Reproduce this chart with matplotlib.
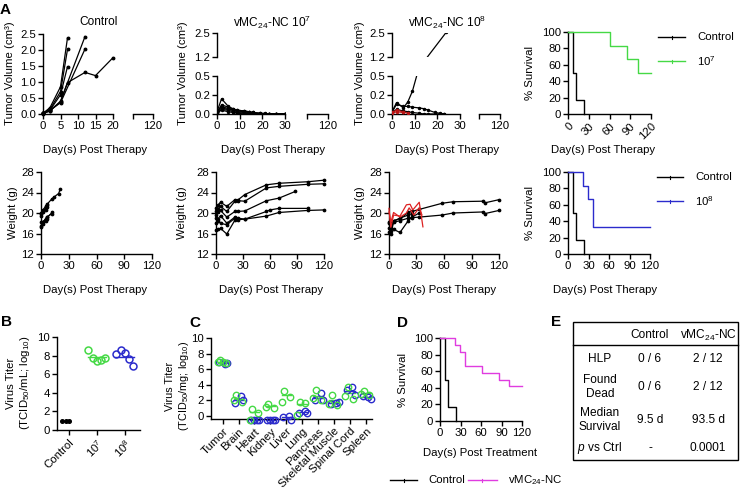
import numpy as np
import matplotlib
matplotlib.use('Agg')
import matplotlib.pyplot as plt
from matplotlib.lines import Line2D
from matplotlib.patches import Rectangle

plt.rcParams['font.family'] = ['Liberation Sans', 'DejaVu Sans']
plt.rcParams['mathtext.fontset'] = 'custom'
plt.rcParams['mathtext.rm'] = 'Liberation Sans'
plt.rcParams['mathtext.it'] = 'Liberation Sans:italic'
plt.rcParams['mathtext.bf'] = 'Liberation Sans:bold'
plt.rcParams['mathtext.default'] = 'regular'

# ---------------- DATA ----------------
# Panel A row 1: tumor volume (cm3)
ctrl_tumor_days = [[0, 2, 5, 7], [0, 2, 5, 7], [0, 2, 5, 7], [0, 2, 5, 12], [0, 2, 5, 12],
                   [0, 2, 5, 7, 12, 15, 20]]
ctrl_tumor_vols = [[0.02, 0.2, 0.85, 2.38], [0.03, 0.15, 0.7, 2.02], [0.02, 0.12, 0.6, 1.48],
                   [0.01, 0.1, 0.4, 2.42], [0.02, 0.12, 0.35, 2.03],
                   [0.02, 0.1, 0.38, 0.98, 1.3, 1.2, 1.76]]

nc7_tumor_days = [0, 2, 5, 7, 9, 12, 14, 16, 19, 21, 23, 26, 30]
nc7_tumor_vols = [[0.03, 0.20, 0.10, 0.07, 0.05, 0.04, 0.03, 0.02, 0.01, 0, 0, 0, 0],
                  [0.02, 0.12, 0.09, 0.06, 0.05, 0.04, 0.03, 0.02, 0.01, 0.01, 0, 0, 0],
                  [0.03, 0.10, 0.07, 0.05, 0.04, 0.03, 0.02, 0.01, 0, 0, 0, 0, 0],
                  [0.02, 0.08, 0.06, 0.05, 0.03, 0.02, 0.01, 0, 0, 0, 0, 0, 0],
                  [0.01, 0.06, 0.05, 0.03, 0.02, 0.01, 0, 0, 0, 0, 0, 0, 0],
                  [0.02, 0.05, 0.03, 0.02, 0.01, 0, 0, 0, 0, 0, 0, 0, 0]]

nc8_tumor_days = [[0, 2, 5, 7, 9, 12, 24],
                  [0, 2, 5, 7, 9, 12, 14, 16, 19, 21, 23],
                  [0, 2, 5, 7, 9, 12, 14, 16, 19, 21, 23]]
nc8_tumor_vols = [[0.03, 0.15, 0.08, 0.16, 0.3, 0.62, 2.55],
                  [0.02, 0.13, 0.10, 0.10, 0.09, 0.08, 0.07, 0.05, 0.02, 0.01, 0],
                  [0.02, 0.06, 0.04, 0.03, 0.02, 0.01, 0, 0, 0, 0, 0]]
nc8_tumor_red_days = [[0, 2, 5, 7], [0, 2, 5]]
nc8_tumor_red_vols = [[0.02, 0.05, 0.03, 0.01], [0.01, 0.03, 0.02]]

# Survival curves (%)
surv_ctrl_days = [0, 7, 12, 23]
surv_ctrl_pct = [100, 50, 16.7, 0]
surv_107_days = [0, 60, 86, 101, 120]
surv_107_pct = [100, 83.3, 66.7, 50, 50]
surv_108_days = [0, 22, 29, 36, 120]
surv_108_pct = [100, 83.3, 66.7, 33.3, 33.3]
surv_nc_days = [0, 22, 29, 36, 61, 86, 101, 120]
surv_nc_pct = [100, 91.7, 83.3, 66.7, 58.3, 50, 41.7, 41.7]

# Panel A row 2: weight (g)
ctrl_w_days = [[0, 2, 5, 7, 12, 14, 19, 21], [0, 2, 5, 7], [0, 2, 5, 7],
               [0, 2, 5, 7, 12], [0, 2, 5, 7, 12], [0, 2, 5, 7]]
ctrl_w_vals = [[20.0, 20.6, 21.3, 21.8, 22.8, 23.1, 23.8, 24.7], [19.8, 20.3, 21.0, 21.5],
               [19.5, 20.1, 20.6, 21.2], [18.3, 18.3, 18.8, 19.2, 20.1],
               [17.5, 18.2, 18.8, 19.3, 19.9], [17.2, 17.8, 18.5, 18.9]]

nc7_w_days = [[0, 2, 5, 12, 21, 24, 32, 56, 70, 102, 120],
              [0, 2, 5, 12, 21, 24, 32, 56, 70, 102, 120],
              [0, 2, 5, 12, 21, 24, 32, 56, 70, 88],
              [0, 2, 5, 12, 21, 24, 32, 56, 60, 70, 102],
              [0, 2, 5, 12, 21, 24, 32, 56, 70, 102, 120],
              [0, 2, 5, 12, 21]]
nc7_w_vals = [[20.9, 21.5, 22.1, 21.3, 22.6, 22.5, 23.6, 25.5, 25.8, 26.1, 26.4],
              [20.3, 20.8, 21.3, 20.3, 22.3, 22.4, 22.3, 24.9, 25.2, 25.6, 25.7],
              [19.6, 20.2, 20.5, 19.2, 20.3, 20.3, 20.4, 22.4, 22.9, 24.2],
              [19.0, 18.8, 19.5, 18.0, 19.2, 19.0, 18.8, 20.3, 20.6, 20.9, 20.9],
              [16.7, 16.8, 17.0, 15.9, 18.6, 18.7, 18.8, 19.4, 20.1, 20.5, 20.6],
              [18.1, 18.5, 18.0, 17.7, 19.0]]

nc8_w_days = [[0, 2, 5, 12, 21, 25, 33, 58, 70, 102, 105, 120],
              [0, 2, 5, 12, 21, 25, 33, 58, 70, 102, 105, 120],
              [0, 2, 5, 12, 21, 25, 33],
              [0, 2, 5, 12, 21, 25]]
nc8_w_vals = [[18.0, 16.5, 18.5, 18.9, 20.1, 20.3, 20.7, 21.9, 22.2, 22.3, 22.0, 22.6],
              [17.0, 16.0, 18.2, 18.5, 19.0, 19.1, 19.2, 19.6, 20.0, 20.2, 19.9, 20.5],
              [16.2, 17.0, 16.8, 16.2, 18.5, 19.2, 20.0],
              [18.3, 18.0, 18.4, 19.0, 19.6, 19.9]]
nc8_w_red_days = [[0, 2, 5, 12, 19, 23, 26, 33, 37], [0, 2, 5, 12, 19, 22, 27, 33, 36]]
nc8_w_red_vals = [[20.9, 17.2, 19.6, 19.4, 21.6, 21.7, 20.6, 22.1, 17.3],
                  [20.2, 18.2, 20.1, 19.2, 20.0, 21.0, 19.6, 21.0, 19.6]]

# Panel B: virus titer (TCID50/mL; log10)
b_groups = ['Control', '10$^7$', '10$^8$']
b_ctrl = [1.0, 1.0, 1.0]
b_107 = [8.55, 7.75, 7.45, 7.5, 7.75]
b_108 = [8.2, 8.55, 8.3, 7.6, 6.9]
b_mean = [None, 7.9, 7.9]

# Panel C: organ titers (TCID50/mg; log10)
c_organs = ['Tumor', 'Brain', 'Heart', 'Kidney', 'Liver', 'Lung', 'Pancreas',
            'Skeletal Muscle', 'Spinal Cord', 'Spleen']
c_107 = [[7.2, 6.85, 6.9, 7.0], [2.7, 1.8, 2.1], [0.9, 0.3, -0.5], [1.5, 0.95, 1.1],
         [3.2, 2.4, 1.8], [1.8, 1.6, 0.1], [3.3, 2.0, 2.3], [2.7, 1.4, 1.5],
         [3.75, 2.2, 2.6], [3.2, 2.7, 2.8]]
c_108 = [[6.7, 7.0, 6.8], [2.5, 1.7, 2.0], [-0.5, -0.5, -0.5, -0.5], [-0.5, -0.5, -0.5, -0.5],
         [0.0, -0.1, -0.5], [0.6, 0.4, 0.3], [2.9, 2.1, 2.0], [1.7, 1.5, 1.8],
         [3.75, 3.3, 2.7], [2.4, 2.5, 2.2]]
c_mean_107 = [6.9, 2.2, 0.43, 1.25, 2.67, 1.47, 2.6, 2.1, 2.9, 2.9]
c_mean_108 = [6.8, 2.1, -0.5, -0.5, -0.2, 0.45, 2.35, 1.7, 3.25, 2.4]

# Panel E: table
e_cols = ['Control', 'vMC$_{24}$-NC']
e_rows = ['HLP', 'Found\nDead', 'Median\nSurvival', '$\\it{p}$ vs Ctrl']
e_ctrl = ['0 / 6', '0 / 6', '9.5 d', '-']
e_nc = ['2 / 12', '2 / 12', '93.5 d', '0.0001']

# ---------------- STYLE ----------------
GREEN = '#45d945'
BLUE = '#2b2bcc'
MAG = '#e03ce0'
RED = '#dd2222'
FS = 8.2

W, H = 740, 495
fig = plt.figure(figsize=(W / 100, H / 100), dpi=100)


def add_ax(l, t, r, b):
    return fig.add_axes([l / W, 1 - b / H, (r - l) / W, (b - t) / H])


def ftext(x, y, s, **kw):
    kw.setdefault('fontsize', FS)
    return fig.text(x / W, 1 - y / H, s, **kw)


def fline(x1, x2, y, color, lw=1.0):
    fig.add_artist(Line2D([x1 / W, x2 / W], [1 - y / H, 1 - y / H], color=color, lw=lw))
    xm = (x1 + x2) / 2
    fig.add_artist(Line2D([xm / W, xm / W], [1 - (y - 1.5) / H, 1 - (y + 1.5) / H],
                          color=color, lw=0.8))


def style(ax, left=True, bottom=True):
    for s in ['top', 'right']:
        ax.spines[s].set_visible(False)
    ax.spines['left'].set_visible(left)
    ax.spines['bottom'].set_visible(bottom)
    for s in ['left', 'bottom']:
        ax.spines[s].set_linewidth(1.0)
    ax.tick_params(direction='out', length=3.5, width=1.0, labelsize=FS, pad=1.5)
    if not left:
        ax.tick_params(axis='y', left=False, labelleft=False)
    if not bottom:
        ax.tick_params(axis='x', bottom=False, labelbottom=False)
    ax.patch.set_alpha(0)


def series(ax, d, v, color='black', clip=False, ms=1.7):
    ax.plot(d, v, color=color, lw=0.9, marker='o', ms=ms, mec=color, mfc=color,
            clip_on=clip, zorder=3)


# ---------------- ROW 1: tumor volume ----------------
ftext(5, 10, 'A', fontsize=11, fontweight='bold', ha='center', va='center')

ax = add_ax(43, 34, 113, 114)
style(ax)
for d, v in zip(ctrl_tumor_days, ctrl_tumor_vols):
    series(ax, d, v, ms=1.8)
ax.set_xlim(0, 20)
ax.set_ylim(0, 2.5)
ax.set_xticks([0, 5, 10, 15, 20])
ax.set_yticks([0, 0.5, 1.0, 1.5, 2.0, 2.5])
ax.set_yticklabels(['0.0', '0.5', '1.0', '1.5', '2.0', '2.5'])
seg = add_ax(133, 34, 153, 114)
style(seg, left=False)
seg.set_xlim(110, 120)
seg.set_ylim(0, 2.5)
seg.set_xticks([110, 120])
seg.set_xticklabels(['', '120'])
ftext(99, 22, 'Control', ha='center', va='center', fontsize=8.6)


def broken_tumor(l, r, s2l, s2r, days_list, vals_list, red_d=None, red_v=None):
    low = add_ax(l, 76, r, 114)
    up = add_ax(l, 33, r, 57)
    style(low)
    style(up, bottom=False)
    for a in (low, up):
        a.set_xlim(0, 30)
        for d, v in zip(days_list, vals_list):
            series(a, d, v, clip=True, ms=1.5)
        if red_d is not None:
            for d, v in zip(red_d, red_v):
                series(a, d, v, color='#b81414', clip=True, ms=1.5)
    low.set_ylim(0, 0.5)
    low.set_yticks([0, 0.25, 0.5])
    low.set_yticklabels(['0.0', '0.2', '0.5'])
    low.set_xticks([0, 10, 20, 30])
    up.set_ylim(1.2, 2.5)
    up.set_yticks([1.2, 2.5])
    up.set_yticklabels(['1.2', '2.5'])
    seg = add_ax(s2l, 76, s2r, 114)
    style(seg, left=False)
    seg.set_xlim(110, 120)
    seg.set_ylim(0, 0.5)
    seg.set_xticks([110, 120])
    seg.set_xticklabels(['', '120'])
    return low, up


broken_tumor(217, 285, 307, 328, [nc7_tumor_days] * len(nc7_tumor_vols), nc7_tumor_vols)
ftext(272, 22, 'vMC$_{24}$-NC 10$^7$', ha='center', va='center', fontsize=8.6)
broken_tumor(392, 460, 479, 500, nc8_tumor_days, nc8_tumor_vols,
             nc8_tumor_red_days, nc8_tumor_red_vols)
ftext(447, 22, 'vMC$_{24}$-NC 10$^8$', ha='center', va='center', fontsize=8.6)

for x in (10, 183, 360):
    ftext(x, 73, 'Tumor Volume (cm³)', rotation=90, ha='center', va='center')


def survival(ax, curves, rotate=False):
    style(ax)
    for d, p, c in curves:
        ax.plot(d, p, drawstyle='steps-post', color=c, lw=1.0, clip_on=False, zorder=3)
    ax.set_xlim(0, 120)
    ax.set_ylim(0, 100)
    ax.set_xticks([0, 30, 60, 90, 120])
    ax.set_yticks([0, 20, 40, 60, 80, 100])
    if rotate:
        for lab in ax.get_xticklabels():
            lab.set_rotation(45)
            lab.set_ha('right')
            lab.set_rotation_mode('anchor')


ax = add_ax(568, 32, 651, 114)
survival(ax, [(surv_ctrl_days, surv_ctrl_pct, 'black'), (surv_107_days, surv_107_pct, GREEN)],
         rotate=True)
ftext(530, 73, '% Survival', rotation=90, ha='center', va='center')
fline(658, 685, 37, 'black')
ftext(697, 37, 'Control', va='center', ha='left')
fline(658, 685, 61, GREEN)
ftext(697, 61, '10$^7$', va='center', ha='left')

for x in (95, 273, 447, 603):
    ftext(x, 150, 'Day(s) Post Therapy', ha='center', va='center')

# ---------------- ROW 2: weight ----------------


def weight(l, r, days_list, vals_list, red_d=None, red_v=None):
    ax = add_ax(l, 172, r, 254)
    style(ax)
    for d, v in zip(days_list, vals_list):
        series(ax, d, v, ms=1.7)
    if red_d is not None:
        for d, v in zip(red_d, red_v):
            ax.plot(d, v, color=RED, lw=0.9, clip_on=False, zorder=4)
    ax.set_xlim(0, 120)
    ax.set_ylim(12, 28)
    ax.set_xticks([0, 30, 60, 90, 120])
    ax.set_yticks([12, 16, 20, 24, 28])
    return ax


weight(41, 152, ctrl_w_days, ctrl_w_vals)
weight(216, 324, nc7_w_days, nc7_w_vals)
weight(389, 499, nc8_w_days, nc8_w_vals, nc8_w_red_days, nc8_w_red_vals)
for x in (13, 182, 360):
    ftext(x, 213, 'Weight (g)', rotation=90, ha='center', va='center')

ax = add_ax(568, 172, 650, 254)
survival(ax, [(surv_ctrl_days, surv_ctrl_pct, 'black'), (surv_108_days, surv_108_pct, BLUE)])
ftext(530, 213, '% Survival', rotation=90, ha='center', va='center')
fline(657, 683, 177, 'black')
ftext(695, 177, 'Control', va='center', ha='left')
fline(657, 683, 201, BLUE)
ftext(695, 201, '10$^8$', va='center', ha='left')

for x in (95, 271, 444, 605):
    ftext(x, 290, 'Day(s) Post Therapy', ha='center', va='center')

# ---------------- B ----------------
ftext(7, 322, 'B', fontsize=11, fontweight='bold', ha='center', va='center')
ax = add_ax(57, 337, 140, 430)
style(ax)
jit = [-0.3, -0.15, 0.0, 0.15, 0.3, 0.08]
ax.plot([0 + jit[i] * 0.8 for i in range(len(b_ctrl))], b_ctrl, 'o', color='black', ms=2.6,
        clip_on=False)
for gi, (vals, col) in enumerate([(b_107, GREEN), (b_108, BLUE)], start=1):
    ax.plot([gi + jit[i] for i in range(len(vals))], vals, 'o', mfc='none', mec=col, mew=1.1,
            ms=5, clip_on=False)
    ax.plot([gi - 0.33, gi + 0.33], [b_mean[gi]] * 2, color=col, lw=1.0)
ax.set_xlim(-0.43, 2.55)
ax.set_ylim(0, 10)
ax.set_yticks([0, 2, 4, 6, 8, 10])
ax.set_xticks([0, 1, 2])
ax.set_xticklabels(b_groups, rotation=45, ha='right', rotation_mode='anchor')
ftext(19, 383, 'Virus Titer\n(TCID$_{50}$/mL; log$_{10}$)', rotation=90, ha='center',
      va='center', multialignment='center')

# ---------------- C ----------------
ftext(195, 323, 'C', fontsize=11, fontweight='bold', ha='center', va='center')
ax = add_ax(211, 338.3, 372, 419.3)
style(ax)
jg = [-0.15, 0.2, -0.3, 0.05]
jb = [0.15, -0.2, 0.3, -0.05]
for i in range(len(c_organs)):
    g = c_107[i]
    b = c_108[i]
    ax.plot([i + jb[k] for k in range(len(b))], b, 'o', mfc='none', mec=BLUE, mew=1.0, ms=4.6,
            clip_on=False, zorder=3)
    ax.plot([i + jg[k] for k in range(len(g))], g, 'o', mfc='none', mec=GREEN, mew=1.0, ms=4.6,
            clip_on=False, zorder=4)
    ax.plot([i - 0.3, i + 0.3], [c_mean_108[i]] * 2, color=BLUE, lw=1.0, clip_on=False)
    ax.plot([i - 0.3, i + 0.3], [c_mean_107[i]] * 2, color=GREEN, lw=1.0, clip_on=False)
ax.set_xlim(-0.73, 9.38)
ax.set_ylim(-0.45, 10)
ax.set_yticks([0, 2, 4, 6, 8, 10])
ax.set_xticks(range(len(c_organs)))
ax.set_xticklabels(c_organs, rotation=45, ha='right', rotation_mode='anchor')
ftext(178, 386, 'Virus Titer\n(TCID$_{50}$/mg; log$_{10}$)', rotation=90, ha='center',
      va='center', multialignment='center', fontsize=7.8)

# ---------------- D ----------------
ftext(403, 323, 'D', fontsize=11, fontweight='bold', ha='center', va='center')
ax = add_ax(440, 338, 522, 421)
survival(ax, [(surv_ctrl_days, surv_ctrl_pct, 'black'), (surv_nc_days, surv_nc_pct, MAG)])
ftext(403, 380, '% Survival', rotation=90, ha='center', va='center')
ftext(480, 453, 'Day(s) Post Treatment', ha='center', va='center')
fline(390, 417, 480, 'black')
ftext(428, 480, 'Control', ha='left', va='center')
fline(468, 497, 480, MAG)
ftext(508, 480, 'vMC$_{24}$-NC', ha='left', va='center')

# ---------------- E ----------------
ftext(556, 322, 'E', fontsize=11, fontweight='bold', ha='center', va='center')
fig.add_artist(Rectangle((573 / W, 1 - 460 / H), (738 - 573) / W, (460 - 322) / H,
                         transform=fig.transFigure, fill=False, lw=1.0, ec='black'))
fline_plain = Line2D([573 / W, 738 / W], [1 - 345 / H, 1 - 345 / H], color='black', lw=1.0)
fig.add_artist(fline_plain)
ftext(650, 335, e_cols[0], ha='center', va='center', fontsize=8.6)
ftext(708, 335, e_cols[1], ha='center', va='center', fontsize=8.6)
row_y = [359, 387, 420, 448]
for ry, lab, c1, c2 in zip(row_y, e_rows, e_ctrl, e_nc):
    ftext(600, ry, lab, ha='center', va='center', fontsize=8.6, multialignment='center')
    ftext(650, ry, c1, ha='center', va='center', fontsize=8.6)
    ftext(708, ry, c2, ha='center', va='center', fontsize=8.6)

fig.savefig('out.png', dpi=100)
